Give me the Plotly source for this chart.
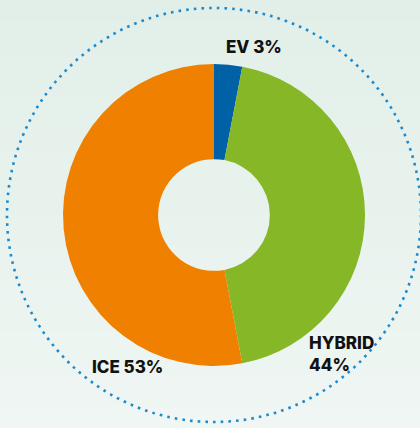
import plotly.graph_objects as go

categories = ["EV", "HYBRID", "ICE"]
values = [3, 44, 53]
colors = ["#0061a6", "#85b727", "#f08100"]
label_texts = ["EV 3%", "HYBRID<br>44%", "ICE 53%"]

W, H = 420, 428
cx, cy, R = 214, 215, 151

fig = go.Figure()
fig.add_trace(go.Pie(
    labels=categories, values=values, sort=False, direction="clockwise",
    rotation=0, hole=0.37, textinfo="none", hoverinfo="label+percent",
    marker=dict(colors=colors, line=dict(width=0)),
    domain=dict(x=[(cx - R) / W, (cx + R) / W], y=[(H - cy - R) / H, (H - cy + R) / H]),
    showlegend=False,
))

shapes = []
# background vertical gradient
top = (0xe2, 0xef, 0xe8)
bot = (0xef, 0xf6, 0xf3)
n = 40
for i in range(n):
    t = i / (n - 1)
    c = tuple(round(top[k] + (bot[k] - top[k]) * t) for k in range(3))
    shapes.append(dict(type="rect", xref="paper", yref="paper",
                       x0=0, x1=1, y0=1 - (i + 1) / n - 0.002, y1=1 - i / n,
                       fillcolor="rgb(%d,%d,%d)" % c, line=dict(width=0), layer="below"))
# dotted ring
Rd = 207
shapes.append(dict(type="circle", xref="paper", yref="paper",
                   x0=(cx - Rd) / W, x1=(cx + Rd) / W,
                   y0=(H - cy - Rd) / H, y1=(H - cy + Rd) / H,
                   line=dict(color="#1a8bd0", width=2.6, dash="2.6px,5.1px"), layer="above"))

font = dict(family="Inter, Lato, sans-serif", size=17, color="#111111", weight=800)
ann = [
    dict(text=label_texts[0], x=224 / W, y=1 - 47 / H),
    dict(text=label_texts[1], x=307 / W, y=1 - 354 / H),
    dict(text=label_texts[2], x=90 / W, y=1 - 367 / H),
]
annotations = [dict(xref="paper", yref="paper", xanchor="left", yanchor="middle",
                    showarrow=False, align="left", font=font, **a) for a in ann]

fig.update_layout(width=W, height=H, margin=dict(l=0, r=0, t=0, b=0),
                  paper_bgcolor="#e8f2ed", plot_bgcolor="rgba(0,0,0,0)",
                  shapes=shapes, annotations=annotations)
fig.write_html("out.html", config=dict(displayModeBar=False),
               post_script="document.body.style.margin='0';document.body.style.overflow='hidden';")
